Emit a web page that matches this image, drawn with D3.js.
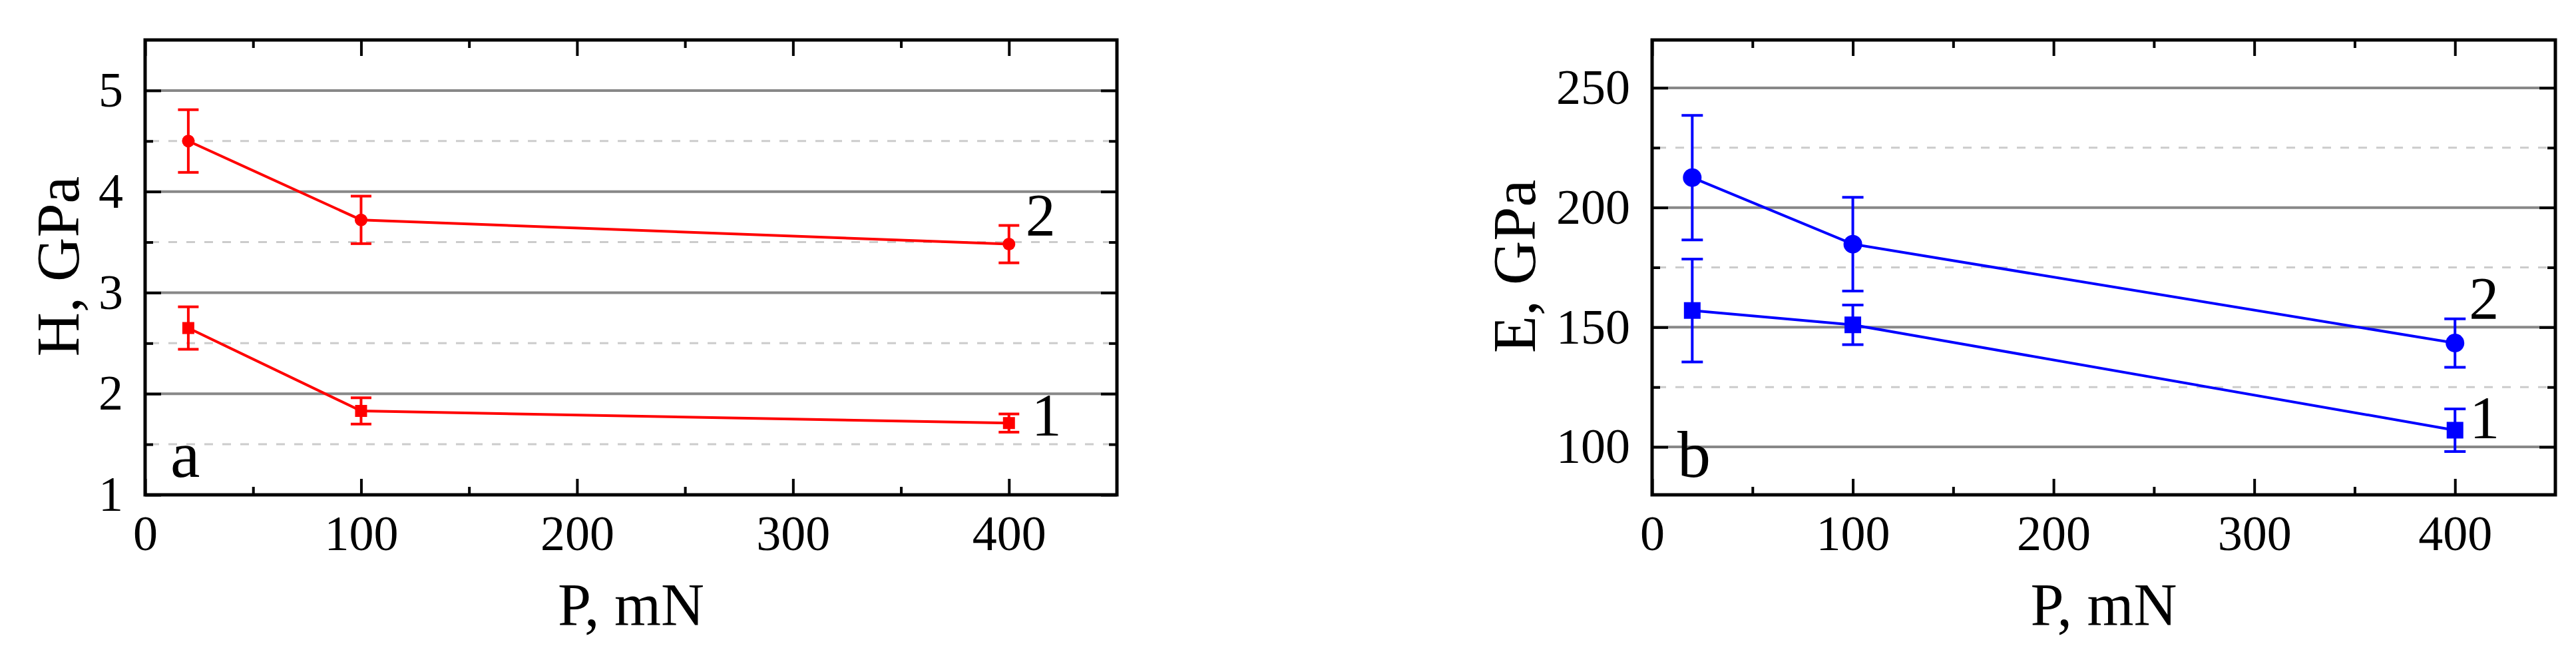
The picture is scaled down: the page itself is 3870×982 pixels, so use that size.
<!DOCTYPE html>
<html>
<head>
<meta charset="utf-8">
<script src="https://cdn.jsdelivr.net/npm/d3@7"></script>
<style>
  body { margin: 0; background: #fff; }
  text { font-family: "Liberation Serif", "Times New Roman", serif; fill: #000; }
</style>
</head>
<body>
<svg id="chart" width="3870" height="982"></svg>
<script>
// load P, mN
var loads = [20, 100, 400];

// hardness, GPa
var hard1 = [2.65, 1.83, 1.71];
var hard1Err = [0.21, 0.13, 0.09];
var hard2 = [4.50, 3.72, 3.48];
var hard2Err = [0.31, 0.235, 0.185];

// elastic modulus, GPa
var mod1 = [157, 151, 107];
var mod1Err = [21.5, 8.3, 8.9];
var mod2 = [212.5, 184.7, 143.4];
var mod2Err = [26, 19.6, 10.1];

var xTicks = [0, 100, 200, 300, 400];
var xMinor = [50, 150, 250, 350];
var hTicks = [1, 2, 3, 4, 5];
var hMinor = [1.5, 2.5, 3.5, 4.5];
var eTicks = [100, 150, 200, 250];
var eMinor = [125, 175, 225];

var svg = d3.select("#chart");

function makePanel(opt) {
    var x = d3.scaleLinear().domain([0, 450]).range([opt.left, opt.right]);
    var y = d3.scaleLinear().domain(opt.yDomain).range([743, 60]);
    var g = svg.append("g");

    // grid
    g.selectAll(".gmaj").data(opt.yTicks.filter(function(d) { return d > opt.yDomain[0]; }))
        .enter().append("line")
        .attr("x1", opt.left).attr("x2", opt.right)
        .attr("y1", y).attr("y2", y)
        .attr("stroke", "#888").attr("stroke-width", 4);
    g.selectAll(".gmin").data(opt.yMinor)
        .enter().append("line")
        .attr("x1", opt.left + 8).attr("x2", opt.right)
        .attr("y1", y).attr("y2", y)
        .attr("stroke", "#cccccc").attr("stroke-width", 3)
        .attr("stroke-dasharray", "13,14");

    function styleAxis(a) {
        a.select(".domain").remove();
        a.selectAll(".tick line").attr("stroke", "#000").attr("stroke-width", 4);
        a.selectAll(".tick text").style("font-size", "74px");
    }

    // ticks, all pointing inward
    g.append("g").attr("transform", "translate(" + opt.left + ",0)")
        .call(d3.axisLeft(y).tickValues(opt.yTicks).tickSize(-24).tickPadding(33).tickFormat(d3.format("d")))
        .call(styleAxis);
    g.append("g").attr("transform", "translate(" + opt.left + ",0)")
        .call(d3.axisLeft(y).tickValues(opt.yMinor).tickSize(-12).tickFormat(""))
        .call(styleAxis);
    g.append("g").attr("transform", "translate(" + opt.right + ",0)")
        .call(d3.axisRight(y).tickValues(opt.yTicks).tickSize(-24).tickFormat(""))
        .call(styleAxis);
    g.append("g").attr("transform", "translate(" + opt.right + ",0)")
        .call(d3.axisRight(y).tickValues(opt.yMinor).tickSize(-12).tickFormat(""))
        .call(styleAxis);
    g.append("g").attr("transform", "translate(0,743)")
        .call(d3.axisBottom(x).tickValues(xTicks).tickSize(-24).tickPadding(30).tickFormat(d3.format("d")))
        .call(styleAxis);
    g.append("g").attr("transform", "translate(0,743)")
        .call(d3.axisBottom(x).tickValues(xMinor).tickSize(-12).tickFormat(""))
        .call(styleAxis);
    g.append("g").attr("transform", "translate(0,60)")
        .call(d3.axisTop(x).tickValues(xTicks).tickSize(-24).tickFormat(""))
        .call(styleAxis);
    g.append("g").attr("transform", "translate(0,60)")
        .call(d3.axisTop(x).tickValues(xMinor).tickSize(-12).tickFormat(""))
        .call(styleAxis);

    // frame
    g.append("rect")
        .attr("x", opt.left).attr("y", 60)
        .attr("width", opt.right - opt.left).attr("height", 683)
        .attr("fill", "none").attr("stroke", "#000").attr("stroke-width", 5);

    // series
    opt.series.forEach(function(s) {
        var pts = loads.map(function(p, i) { return { x: p, y: s.values[i], e: s.errors[i] }; });
        var line = d3.line().x(function(d) { return x(d.x); }).y(function(d) { return y(d.y); });
        g.append("path").datum(pts)
            .attr("d", line)
            .attr("fill", "none").attr("stroke", opt.color).attr("stroke-width", 4);

        var eb = g.append("g").selectAll("g").data(pts).enter().append("g")
            .attr("stroke", opt.color).attr("stroke-width", 4);
        eb.append("line")
            .attr("x1", function(d) { return x(d.x); }).attr("x2", function(d) { return x(d.x); })
            .attr("y1", function(d) { return y(d.y - d.e); }).attr("y2", function(d) { return y(d.y + d.e); });
        eb.append("line")
            .attr("x1", function(d) { return x(d.x) - opt.cap; }).attr("x2", function(d) { return x(d.x) + opt.cap; })
            .attr("y1", function(d) { return y(d.y + d.e); }).attr("y2", function(d) { return y(d.y + d.e); });
        eb.append("line")
            .attr("x1", function(d) { return x(d.x) - opt.cap; }).attr("x2", function(d) { return x(d.x) + opt.cap; })
            .attr("y1", function(d) { return y(d.y - d.e); }).attr("y2", function(d) { return y(d.y - d.e); });

        if (s.shape === "circle") {
            g.selectAll(null).data(pts).enter().append("circle")
                .attr("cx", function(d) { return x(d.x); })
                .attr("cy", function(d) { return y(d.y); })
                .attr("r", opt.radius)
                .attr("fill", opt.color);
        } else {
            g.selectAll(null).data(pts).enter().append("rect")
                .attr("x", function(d) { return x(d.x) - opt.side / 2; })
                .attr("y", function(d) { return y(d.y) - opt.side / 2; })
                .attr("width", opt.side).attr("height", opt.side)
                .attr("fill", opt.color);
        }

        g.append("text")
            .attr("x", x(400) + s.labelDx)
            .attr("y", y(s.values[2]) + s.labelDy)
            .style("font-size", "90px")
            .text(s.label);
    });

    // axis titles
    g.append("text")
        .attr("transform", "translate(" + opt.yTitleX + ",400) rotate(-90)")
        .attr("text-anchor", "middle")
        .style("font-size", "92px")
        .text(opt.yTitle);
    g.append("text")
        .attr("x", (opt.left + opt.right) / 2).attr("y", 939)
        .attr("text-anchor", "middle")
        .style("font-size", "90px")
        .text("P, mN");

    // panel letter
    g.append("text")
        .attr("x", opt.left + 38).attr("y", 716)
        .style("font-size", "100px")
        .text(opt.letter);
}

makePanel({
    left: 218, right: 1678,
    yDomain: [1, 5.5], yTicks: hTicks, yMinor: hMinor,
    yTitle: "H, GPa", yTitleX: 118, letter: "a",
    color: "#ff0000", cap: 15.5, radius: 9.5, side: 18,
    series: [
        { values: hard1, errors: hard1Err, shape: "square", label: "1", labelDx: 34, labelDy: 19 },
        { values: hard2, errors: hard2Err, shape: "circle", label: "2", labelDx: 25, labelDy: -13 }
    ]
});

makePanel({
    left: 2482, right: 3839,
    yDomain: [80, 270], yTicks: eTicks, yMinor: eMinor,
    yTitle: "E, GPa", yTitleX: 2306, letter: "b",
    color: "#0000ff", cap: 16, radius: 14, side: 25,
    series: [
        { values: mod1, errors: mod1Err, shape: "square", label: "1", labelDx: 22, labelDy: 12 },
        { values: mod2, errors: mod2Err, shape: "circle", label: "2", labelDx: 21, labelDy: -36 }
    ]
});
</script>
</body>
</html>
